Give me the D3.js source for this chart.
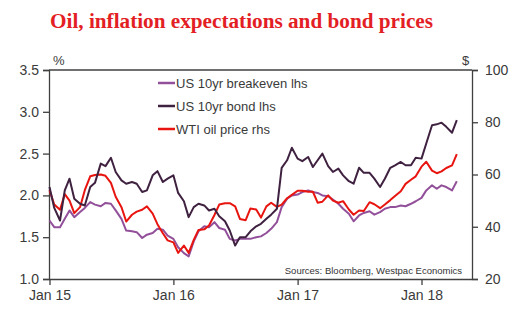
<!DOCTYPE html>
<html>
<head>
<meta charset="utf-8">
<script src="https://cdn.jsdelivr.net/npm/d3@7"></script>
<style>
  body { margin: 0; background: #fff; }
  text { font-family: Arial, "Liberation Sans", sans-serif; }
</style>
</head>
<body>
<div id="chart"></div>
<script>
// 数据: half-monthly points, Jan 2015 - Apr 2018
const dates = d3.range(80).map(i => new Date(2015 + Math.floor(i / 24), Math.floor(i / 2) % 12, i % 2 ? 15 : 1));

const breakeven = [1.70, 1.62, 1.62, 1.72, 1.82, 1.74, 1.80, 1.85, 1.92, 1.89,
  1.87, 1.91, 1.90, 1.82, 1.72, 1.58, 1.57, 1.56, 1.49, 1.53,
  1.55, 1.60, 1.59, 1.52, 1.48, 1.38, 1.31, 1.27, 1.45, 1.57,
  1.63, 1.62, 1.68, 1.61, 1.59, 1.48, 1.46, 1.48, 1.48, 1.48,
  1.50, 1.51, 1.55, 1.60, 1.68, 1.86, 1.96, 2.00, 2.01, 2.04,
  2.06, 2.04, 2.03, 2.00, 1.99, 1.95, 1.90, 1.84, 1.78, 1.69,
  1.76, 1.79, 1.81, 1.77, 1.80, 1.84, 1.86, 1.86, 1.88, 1.87,
  1.90, 1.93, 1.97, 2.06, 2.12, 2.08, 2.12, 2.10, 2.06, 2.17];

const bond = [2.10, 1.85, 1.70, 2.06, 2.20, 1.96, 1.90, 1.88, 2.10, 2.15,
  2.38, 2.35, 2.45, 2.28, 2.18, 2.14, 2.16, 2.14, 2.04, 2.06,
  2.24, 2.29, 2.16, 2.20, 2.24, 2.03, 1.93, 1.74, 1.86, 1.90,
  1.88, 1.82, 1.84, 1.75, 1.69, 1.58, 1.40, 1.50, 1.50, 1.57,
  1.63, 1.66, 1.72, 1.77, 1.84, 2.33, 2.42, 2.57, 2.44, 2.41,
  2.46, 2.34, 2.42, 2.50, 2.35, 2.28, 2.32, 2.24, 2.17, 2.14,
  2.33, 2.27, 2.27, 2.20, 2.10, 2.20, 2.33, 2.36, 2.40, 2.36,
  2.36, 2.45, 2.44, 2.62, 2.84, 2.85, 2.87, 2.82, 2.75, 2.90];

const wti = [54.0, 48.5, 46.5, 52.5, 50.0, 45.2, 47.5, 54.0, 59.3, 59.8,
  60.0, 59.5, 56.8, 51.5, 47.5, 42.0, 44.6, 45.8, 46.5, 47.8,
  45.0, 41.0, 37.5, 34.8, 34.0, 30.0, 32.8, 30.0, 35.0, 38.8,
  39.0, 40.5, 44.5, 48.5, 49.0, 49.0, 47.8, 43.0, 42.5, 47.0,
  46.6, 43.5, 47.8, 49.2, 47.6, 48.5, 50.9, 52.2, 53.8, 53.8,
  53.4, 53.4, 49.2, 49.6, 52.0, 50.0, 49.2, 49.8, 46.6, 44.6,
  46.2, 46.0, 49.4, 48.6, 47.1, 48.5, 50.2, 51.8, 53.6, 56.4,
  58.0, 59.3, 63.0, 64.9, 61.5, 60.5, 61.2, 62.5, 63.5, 67.8];

const leftTicks = [1.0, 1.5, 2.0, 2.5, 3.0, 3.5];
const rightTicks = [20, 40, 60, 80, 100];
const xTicks = [new Date(2015, 0, 1), new Date(2016, 0, 1), new Date(2017, 0, 1), new Date(2018, 0, 1)];

const seriesNames = ["US 10yr breakeven lhs", "US 10yr bond lhs", "WTI oil price rhs"];
const colors = ["#93509a", "#3f2140", "#e8140f"];

// 尺寸
const width = 522, height = 321;
const margin = { top: 70, right: 50, bottom: 42, left: 49 };
const axisColor = "#404040";
const labelColor = "#3a3a3a";

const svg = d3.select("#chart").append("svg")
  .attr("width", width)
  .attr("height", height);

// 标题
svg.append("text")
  .attr("x", 50).attr("y", 28)
  .attr("fill", "#e31e24")
  .style("font-family", "'Liberation Serif', 'Times New Roman', serif")
  .style("font-weight", "bold")
  .style("font-size", "20.5px")
  .attr("textLength", 383)
  .attr("lengthAdjust", "spacingAndGlyphs")
  .text("Oil, inflation expectations and bond prices");

// 比例尺
const x = d3.scaleTime()
  .domain([new Date(2015, 0, 1), new Date(2018, 0, 1)])
  .range([margin.left + 0.5, 421.5]);

const yL = d3.scaleLinear().domain([1, 3.5]).range([height - margin.bottom, margin.top]);
const yR = d3.scaleLinear().domain([20, 100]).range([height - margin.bottom, margin.top]);

const plotRight = width - margin.right;

// 轴
const styleAxis = g => {
  g.select(".domain").attr("stroke", axisColor).attr("stroke-width", 1.3);
  g.selectAll(".tick line").attr("stroke", axisColor).attr("stroke-width", 1.3);
  g.selectAll(".tick text").attr("fill", labelColor).style("font-size", "14px")
    .style("font-family", "Arial, 'Liberation Sans', sans-serif");
};

svg.append("g")
  .attr("transform", `translate(${margin.left},0)`)
  .call(d3.axisLeft(yL).tickValues(leftTicks).tickFormat(d3.format(".1f")).tickSizeOuter(0).tickSize(6).tickPadding(4))
  .call(styleAxis);

svg.append("g")
  .attr("transform", `translate(${plotRight},0)`)
  .call(d3.axisRight(yR).tickValues(rightTicks).tickSizeOuter(0).tickSize(6).tickPadding(7))
  .call(styleAxis);

const xAxis = svg.append("g")
  .attr("transform", `translate(0,${height - margin.bottom})`)
  .call(d3.axisBottom(x).tickValues(xTicks).tickFormat(d3.timeFormat("Jan %y")).tickSizeOuter(0).tickSize(6).tickPadding(5))
  .call(styleAxis);
xAxis.select(".domain").attr("d", `M${margin.left},0.5H${plotRight}`);

// 顶部边框
svg.append("line")
  .attr("x1", margin.left).attr("x2", plotRight)
  .attr("y1", margin.top).attr("y2", margin.top)
  .attr("stroke", axisColor).attr("stroke-width", 1.3);

// 单位
svg.append("text").attr("x", 53).attr("y", 65).attr("fill", labelColor)
  .style("font-size", "13px").text("%");
svg.append("text").attr("x", 462).attr("y", 65).attr("fill", labelColor)
  .style("font-size", "13px").text("$");

// 折线
const lineL = d3.line().x((d, i) => x(dates[i])).y(d => yL(d));
const lineR = d3.line().x((d, i) => x(dates[i])).y(d => yR(d));

svg.append("path").datum(breakeven)
  .attr("fill", "none").attr("stroke", colors[0]).attr("stroke-width", 2)
  .attr("stroke-linejoin", "round").attr("d", lineL);

svg.append("path").datum(wti)
  .attr("fill", "none").attr("stroke", colors[2]).attr("stroke-width", 2)
  .attr("stroke-linejoin", "round").attr("d", lineR);

svg.append("path").datum(bond)
  .attr("fill", "none").attr("stroke", colors[1]).attr("stroke-width", 2)
  .attr("stroke-linejoin", "round").attr("d", lineL);

// 图例
const legend = svg.append("g");
seriesNames.forEach((name, i) => {
  const ly = 83 + i * 23;
  legend.append("line")
    .attr("x1", 158).attr("x2", 175)
    .attr("y1", ly).attr("y2", ly)
    .attr("stroke", colors[i]).attr("stroke-width", 2.5);
  legend.append("text")
    .attr("x", 176).attr("y", ly + 5)
    .attr("fill", labelColor)
    .style("font-size", "13px")
    .text(name);
});

// 来源
svg.append("text")
  .attr("x", 462).attr("y", 274)
  .attr("text-anchor", "end")
  .attr("fill", "#333")
  .style("font-size", "9.5px")
  .text("Sources: Bloomberg, Westpac Economics");
</script>
</body>
</html>
